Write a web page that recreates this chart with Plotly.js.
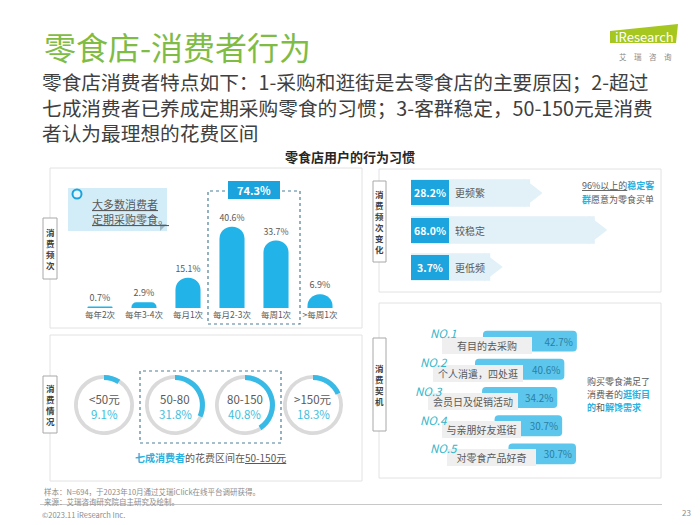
<!DOCTYPE html>
<html><head><meta charset="utf-8">
<script src="https://cdn.plot.ly/plotly-3.0.1.min.js"></script>
<style>html,body{margin:0;padding:0;background:#fff}#chart{width:700px;height:525px}</style>
</head><body><div id="chart"></div>
<script>
// ---------- data ----------
const freqCats = ['每年2次','每年3-4次','每月1次','每月2-3次','每周1次','>每周1次'];
const freqVals = [0.7, 2.9, 15.1, 40.6, 33.7, 6.9];
const regularShare = 74.3;
const changeCats = ['更频繁','较稳定','更低频'];
const changeVals = [28.2, 68.0, 3.7];
const spendCats = ['<50元','50-80','80-150','>150元'];
const spendVals = [9.1, 31.8, 40.8, 18.3];
const motiveRanks = ['NO.1','NO.2','NO.3','NO.4','NO.5'];
const motiveCats = ['有目的去采购','个人消遣，四处逛','会员日及促销活动','与亲朋好友逛街','对零食产品好奇'];
const motiveVals = [42.7, 40.6, 34.2, 30.7, 30.7];

// ---------- helpers ----------
const W = 700, H = 525;
const X = p => p / W, Y = p => 1 - p / H;
const FONT = '"Noto Sans CJK SC", "Noto Sans", sans-serif';
const GT = '#595959';
const CYAN = '#29b1e0';
const fmt = v => v.toFixed(1) + '%';
function ann(x, y, text, o) {
  return Object.assign({xref:'paper', yref:'paper', x:X(x), y:Y(y), text:text, showarrow:false,
    xanchor:'center', yanchor:'middle', font:{size:10, color:GT}}, o || {});
}
function rect(x0, y0, x1, y1, o) {
  return Object.assign({type:'rect', xref:'paper', yref:'paper', x0:X(x0), x1:X(x1), y0:Y(y1), y1:Y(y0),
    line:{color:'#e2e2e2', width:1}}, o || {});
}

const traces = [];
// frequency bars
traces.push({type:'bar', x:freqCats, y:freqVals, xaxis:'x', yaxis:'y', width:0.57,
  marker:{color:'#22b3e8', cornerradius:'50%'}, text:freqVals.map(fmt), texttemplate:'%{text}',
  textposition:'outside', textfont:{size:9, color:GT}, cliponaxis:false, hoverinfo:'skip', showlegend:false});

// frequency change arrows
const CH_OFF = 45;
traces.push({type:'bar', orientation:'h', y:changeCats, x:changeVals.map(v => v + CH_OFF), base:-CH_OFF,
  xaxis:'x2', yaxis:'y2', width:0.74, marker:{color:'#e2f1f8'}, hoverinfo:'skip', showlegend:false});
traces.push({type:'scatter', mode:'markers', y:changeCats, x:changeVals, xaxis:'x2', yaxis:'y2',
  marker:{symbol:'triangle-right', size:25, color:'#e2f1f8', line:{width:0}}, cliponaxis:false, hoverinfo:'skip', showlegend:false});

// motive ranking bars
const rankIndent = [37.7, 34.1, 37.3, 43, 49.3];
traces.push({type:'bar', orientation:'h', y:motiveCats, x:motiveVals, base:rankIndent, xaxis:'x3', yaxis:'y3',
  width:0.74, marker:{color:'#5cc6ec', cornerradius:4}, text:motiveVals.map(fmt), texttemplate:'%{text}',
  textposition:'inside', insidetextanchor:'end', textfont:{size:10, color:'#2d7ea3'}, constraintext:'none',
  hoverinfo:'skip', showlegend:false});

// spend donuts: grey track + blue arc
const donutCx = [104, 175, 245, 313], donutCy = 405, donutR = 30;
spendVals.forEach((v, i) => {
  const dom = {x:[X(donutCx[i] - donutR), X(donutCx[i] + donutR)], y:[Y(donutCy + donutR), Y(donutCy - donutR)]};
  traces.push({type:'pie', values:[v, 100 - v], labels:['g' + i, 'h' + i], sort:false, direction:'counterclockwise',
    rotation:0, hole:0.875, marker:{colors:['#dadada', '#dadada'], line:{width:0}}, textinfo:'none', hoverinfo:'none',
    showlegend:false, domain:dom});
  traces.push({type:'pie', values:[v, 100 - v], labels:['a' + i, 'b' + i], sort:false, direction:'counterclockwise',
    rotation:0, hole:0.83, marker:{colors:['#38bae7', 'rgba(0,0,0,0)'], line:{width:0}}, textinfo:'none', hoverinfo:'none',
    showlegend:false, domain:dom});
});

// ---------- shapes ----------
const shapes = [
  rect(50, 168, 362, 328, {layer:'below'}),
  rect(50, 335, 362, 481, {layer:'below'}),
  rect(379, 169, 661, 292, {layer:'below'}),
  rect(379, 303, 661, 478, {layer:'below'}),
  // callout
  rect(68, 188, 167, 231, {layer:'below', fillcolor:'#d3edf8', line:{width:0}}),
  {type:'path', xref:'paper', yref:'paper', layer:'below', path:`M ${X(160)} ${Y(231)} L ${X(167)} ${Y(224)} L ${X(160)} ${Y(224)} Z`, fillcolor:'#9fb7c2', line:{width:0}},
  {type:'circle', xref:'paper', yref:'paper', x0:X(72.5), x1:X(81.5), y0:Y(198.5), y1:Y(189.5), line:{color:'#1aa3dc', width:2}, fillcolor:'#e9f7fd'},
  // side label boxes
  rect(43, 218, 57, 279, {fillcolor:'#fff', line:{color:'#a8a8a8', width:1}}),
  rect(43, 376, 57, 433, {fillcolor:'#fff', line:{color:'#a8a8a8', width:1}}),
  rect(373, 181, 386, 262, {fillcolor:'#fff', line:{color:'#a8a8a8', width:1}}),
  rect(373, 338, 386, 431, {fillcolor:'#fff', line:{color:'#a8a8a8', width:1}}),
  // dashed boxes
  rect(208, 191, 300, 324, {line:{color:'#4d7f97', width:1.2, dash:'dot'}}),
  rect(140, 371, 281, 443, {line:{color:'#4d7f97', width:1.2, dash:'dot'}}),
  // footer line
  {type:'line', xref:'paper', yref:'paper', x0:X(40), x1:X(662), y0:Y(504.5), y1:Y(504.5), line:{color:'#c8c8c8', width:1}},
  // logo
  {type:'path', xref:'paper', yref:'paper', path:`M ${X(610)} ${Y(31)} L ${X(678)} ${Y(24)} L ${X(676)} ${Y(43)} L ${X(610)} ${Y(43)} Z`, fillcolor:'#a5c720', line:{width:0}},
];

// ---------- annotations ----------
const anns = [
  ann(42, 46, '零食店-消费者行为', {xanchor:'left', font:{size:32, color:'#7fbc45'}}),
  ann(40, 107, '零食店消费者特点如下：1-采购和逛街是去零食店的主要原因；2-超过<br>七成消费者已养成定期采购零食的习惯；3-客群稳定，50-150元是消费<br>者认为最理想的花费区间',
      {xanchor:'left', align:'left', font:{size:19.7, color:'#404040'}}),
  ann(350, 157, '<b>零食店用户的行为习惯</b>', {font:{size:13, color:'#262626'}}),
  ann(644, 36, 'iResearch', {font:{size:13, color:'#ffffff'}}),
  ann(645, 57, '艾　瑞　咨　询', {font:{size:7.5, color:'#8a8a8a'}}),
  // side labels
  ann(50, 248.5, '<b>消<br>费<br>频<br>次</b>', {font:{size:8.5, color:'#404040'}}),
  ann(50, 404.5, '<b>消<br>费<br>情<br>况</b>', {font:{size:8.5, color:'#404040'}}),
  ann(379.5, 221.5, '<b>消<br>费<br>频<br>次<br>变<br>化</b>', {font:{size:8.5, color:'#404040'}}),
  ann(379.5, 384.5, '<b>消<br>费<br>契<br>机</b>', {font:{size:8.5, color:'#404040'}}),
  // callout
  ann(90, 204, '<u>大多数消费者</u>', {xanchor:'left', font:{size:11, color:GT}}),
  ann(90, 219, '<u>定期采购零食。</u>', {xanchor:'left', font:{size:11, color:GT}}),
  ann(254, 190, '<b>' + fmt(regularShare) + '</b>', {bgcolor:'#1aa3dc', width:52, height:18, borderpad:0, borderwidth:0, font:{size:11, color:'#ffffff'}}),
  // donut footer
  ann(210, 457, '<b><span style="color:' + CYAN + '">七成消费者</span></b>的花费区间在<u>50-150元</u>', {font:{size:10, color:GT}}),
  // right top note
  ann(580, 185, '<u>96%以上的</u><b><span style="color:' + CYAN + '">稳定客</span></b>', {xanchor:'left', font:{size:9, color:GT}}),
  ann(580, 199, '<b><span style="color:' + CYAN + '">群</span></b>愿意为零食买单', {xanchor:'left', font:{size:9, color:GT}}),
  // right bottom note
  ann(585, 381, '购买零食满足了', {xanchor:'left', font:{size:9, color:GT}}),
  ann(585, 394, '消费者的<b><span style="color:' + CYAN + '">逛街目</span></b>', {xanchor:'left', font:{size:9, color:GT}}),
  ann(585, 407, '<b><span style="color:' + CYAN + '">的</span></b>和<b><span style="color:' + CYAN + '">解馋需求</span></b>', {xanchor:'left', font:{size:9, color:GT}}),
  // footer
  ann(42, 491, '样本：N=694，于2023年10月通过艾瑞iClick在线平台调研获得。', {xanchor:'left', font:{size:7.5, color:'#8c8c8c'}}),
  ann(42, 501, '来源：艾瑞咨询研究院自主研究及绘制。', {xanchor:'left', font:{size:7.5, color:'#8c8c8c'}}),
  ann(40, 514, '©2023.11 iResearch Inc.', {xanchor:'left', font:{size:7.5, color:'#8c8c8c'}}),
  ann(686, 512, '23', {font:{size:8, color:'#8c8c8c'}}),
];
// change boxes and labels
changeCats.forEach((c, i) => {
  anns.push({xref:'x2', yref:'y2', x:-CH_OFF, y:c, xanchor:'left', yanchor:'middle', showarrow:false,
    text:'<b>' + fmt(changeVals[i]) + '</b>', bgcolor:'#1ba4dd', width:38, height:25, borderpad:0, borderwidth:0,
    font:{size:10.5, color:'#ffffff'}});
  anns.push({xref:'x2', yref:'y2', x:-CH_OFF, y:c, xshift:42, xanchor:'left', yanchor:'middle', showarrow:false,
    text:c, font:{size:10, color:GT}});
});
// donut labels
spendCats.forEach((c, i) => {
  anns.push(ann(donutCx[i], 398.5, c, {font:{size:11.5, color:GT}}));
  anns.push(ann(donutCx[i], 414, fmt(spendVals[i]), {font:{size:11.5, color:'#45bedc'}}));
});
// ranking labels
const grayL = [442, 433, 428, 442, 447], grayR = [532, 523, 518, 521, 536];
const noX = [428, 418, 413, 418, 428], noY = [333, 362, 391, 420, 448];
motiveCats.forEach((c, i) => {
  anns.push({xref:'paper', yref:'y3', x:X(grayL[i]), y:c, yshift:-4, xanchor:'left', yanchor:'middle', showarrow:false,
    text:c, bgcolor:'#efefef', width:grayR[i] - grayL[i], height:17, borderpad:0, borderwidth:0, font:{size:10, color:GT}});
});
motiveRanks.forEach((r, i) => {
  anns.push(ann(noX[i], noY[i], '<i>' + r + '</i>', {xanchor:'left', font:{size:11.5, color:'#33b5c9'}}));
});

const layout = {
  width:W, height:H, margin:{l:0, r:0, t:0, b:0}, paper_bgcolor:'#ffffff', plot_bgcolor:'rgba(0,0,0,0)',
  font:{family:FONT, color:GT}, showlegend:false,
  xaxis:{domain:[X(78), X(342)], anchor:'y', showgrid:false, zeroline:false, showline:false, ticks:'',
    tickfont:{size:8.5, color:GT}, fixedrange:true},
  yaxis:{domain:[Y(308), Y(208)], range:[0, 50], visible:false, anchor:'x', fixedrange:true},
  xaxis2:{domain:[X(411), X(655)], range:[-45, 105], visible:false, anchor:'y2', fixedrange:true},
  yaxis2:{domain:[Y(288.5), Y(171.5)], type:'category', autorange:'reversed', visible:false, anchor:'x2', fixedrange:true},
  xaxis3:{domain:[X(400), X(620)], range:[0, 100], visible:false, anchor:'y3', fixedrange:true},
  yaxis3:{domain:[Y(468), Y(327)], type:'category', autorange:'reversed', visible:false, anchor:'x3', fixedrange:true},
  shapes:shapes, annotations:anns
};
Plotly.newPlot('chart', traces, layout, {displayModeBar:false, staticPlot:true});
</script></body></html>
